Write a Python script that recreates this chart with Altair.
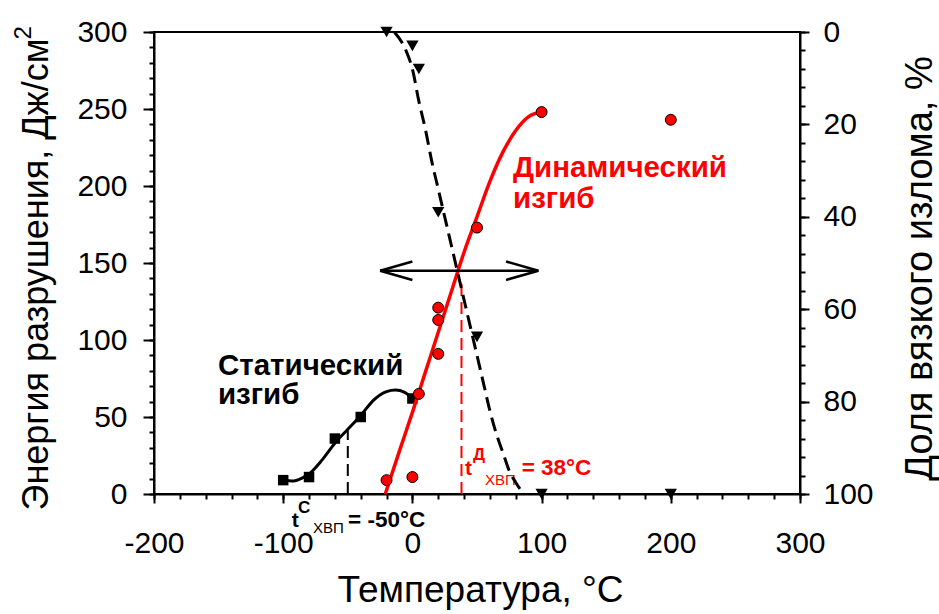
import altair as alt
import pandas as pd

FONT = "Liberation Sans"
RED = "#ff0000"

# Static bending: fracture energy, J/cm^2
static_temp = [-100, -80, -60, -40, 0]
static_energy = [9, 11, 36, 50, 62]
static_fit_temp = [-100, -92, -85, -80, -70, -60, -50, -40, -30, -20, -13, -6, 0]
static_fit_energy = [9, 8.5, 10.5, 13, 22, 33, 42, 51, 61, 66.5, 67.5, 66, 62]

# Dynamic bending: fracture energy, J/cm^2
dyn_temp = [-20, 0, 5, 20, 20, 20, 50, 100, 200]
dyn_energy = [9, 11, 65, 91, 113, 121, 173, 248, 243]
dyn_fit_temp = [-21, -10, 0, 10, 20, 30, 40, 50, 60, 70, 80, 90, 100]
dyn_fit_energy = [0, 28, 53, 79, 105, 131, 157, 180, 203, 222, 236, 245, 248]

# Share of ductile fracture, %
ductile_temp = [-20, 0, 5, 20, 50, 100, 200]
ductile_share = [0, 3, 8, 39, 66, 100, 100]
ductile_fit_temp = [-14, -5, 0, 5, 10, 15, 20, 25, 30, 35, 40, 45, 50, 55, 60,
                    65, 70, 75, 80, 86]
ductile_fit_share = [0, 4, 8, 15, 21, 28, 34, 40, 46, 52, 58, 64, 70, 76, 82,
                     87, 91, 95, 97.5, 100]

# Ductile-to-brittle transition temperatures
t_static = -50
t_static_level = 42
t_dynamic = 38
t_dynamic_level = 140

# Double-headed arrow
arrow_level = 145
arrow_from, arrow_to = -25, 97.5
head_len, head_half = 25, 6

x_scale = alt.Scale(domain=[-200, 300], nice=False, zero=False)
e_scale = alt.Scale(domain=[0, 300], nice=False, zero=False)
p_scale = alt.Scale(domain=[0, 100], nice=False, zero=False, reverse=True)

common = dict(
    domainColor="black", domainWidth=2, tickColor="black", tickWidth=2,
    labelColor="black", labelFont=FONT, labelFontSize=30,
    titleFont=FONT, titleFontWeight="normal", titleColor="black",
    labelOverlap=False, labelFlush=False, grid=False,
)
minor = dict(domain=False, labels=False, title=None, grid=False,
             tickColor="black", tickWidth=2, tickSize=5)

x_axis = alt.Axis(
    values=list(range(-200, 301, 100)), tickSize=9,
    labelExpr="'' + datum.value",
    labelBaseline="alphabetic", labelPadding=49,
    title="Температура, °C", titleFontSize=37, titleX=326, titleY=107,
    titleBaseline="alphabetic", titleAlign="center",
    **common,
)
x_minor = alt.Axis(orient="bottom", values=list(range(-200, 301, 20)), **minor)

left_axis = alt.Axis(
    values=list(range(0, 301, 50)), tickSize=11,
    labelExpr="'' + datum.value",
    labelPadding=16, labelBaseline="middle",
    title="Энергия разрушения, Дж/см", titleFontSize=36, titleAngle=270,
    titleX=-107, titleY=242, titleBaseline="alphabetic", titleAlign="center",
    **common,
)
left_minor = alt.Axis(orient="left", values=list(range(0, 301, 10)), **minor)

right_axis = alt.Axis(
    orient="right", values=list(range(0, 101, 20)), tickSize=9,
    labelExpr="'' + datum.value",
    labelPadding=14, labelAlign="left", labelBaseline="middle",
    title="Доля вязкого излома, %", titleFontSize=38, titleAngle=270,
    titleX=131, titleY=236, titleBaseline="alphabetic", titleAlign="center",
    **common,
)
right_minor = alt.Axis(orient="right", values=list(range(0, 101, 4)), **minor)


def X(field, axis=None):
    return alt.X(f"{field}:Q", scale=x_scale, axis=axis)


def YE(field, axis=None):
    return alt.Y(f"{field}:Q", scale=e_scale, axis=axis)


def YP(field, axis=None):
    return alt.Y(f"{field}:Q", scale=p_scale, axis=axis)


def label(text, x, y, size, color="black", weight="bold", angle=0, align="left",
          baseline="alphabetic"):
    df = pd.DataFrame({"x": [x], "y": [y], "t": [text]})
    return alt.Chart(df).mark_text(
        align=align, baseline=baseline, font=FONT, fontSize=size,
        fontWeight=weight, color=color, angle=angle,
    ).encode(x=X("x"), y=YE("y"), text="t:N")


static_pts = pd.DataFrame({"t": static_temp, "e": static_energy})
static_fit = pd.DataFrame({"t": static_fit_temp, "e": static_fit_energy})
dyn_pts = pd.DataFrame({"t": dyn_temp, "e": dyn_energy})
dyn_fit = pd.DataFrame({"t": dyn_fit_temp, "e": dyn_fit_energy})
duct_pts = pd.DataFrame({"t": ductile_temp, "p": ductile_share})
duct_fit = pd.DataFrame({"t": ductile_fit_temp, "p": ductile_fit_share})

static_line = alt.Chart(static_fit).mark_line(
    color="black", strokeWidth=3, interpolate="monotone"
).encode(x=X("t", x_axis), y=YE("e", left_axis))

static_marks = alt.Chart(static_pts).mark_point(
    shape="square", filled=True, color="black", size=110, opacity=1
).encode(x=X("t", x_minor), y=YE("e", left_minor))

static_rule = alt.Chart(
    pd.DataFrame({"t": [t_static], "e0": [0], "e1": [t_static_level]})
).mark_rule(color="black", strokeWidth=2, strokeDash=[12, 6]).encode(
    x=X("t"), y=YE("e0"), y2="e1:Q"
)

dyn_line = alt.Chart(dyn_fit).mark_line(
    color=RED, strokeWidth=3.5, interpolate="monotone"
).encode(x=X("t"), y=YE("e"))

dyn_marks = alt.Chart(dyn_pts).mark_point(
    shape="circle", filled=True, fill=RED, stroke="black", strokeWidth=1,
    size=120, opacity=1
).encode(x=X("t"), y=YE("e"))

dyn_rule = alt.Chart(
    pd.DataFrame({"t": [t_dynamic], "e0": [0], "e1": [t_dynamic_level]})
).mark_rule(color=RED, strokeWidth=2, strokeDash=[12, 6]).encode(
    x=X("t"), y=YE("e0"), y2="e1:Q"
)

arrow_df = pd.DataFrame({
    "x0": [arrow_from, arrow_from, arrow_from, arrow_to, arrow_to],
    "x1": [arrow_to, arrow_from + head_len, arrow_from + head_len,
           arrow_to - head_len, arrow_to - head_len],
    "y0": [arrow_level] * 5,
    "y1": [arrow_level, arrow_level + head_half, arrow_level - head_half,
           arrow_level + head_half, arrow_level - head_half],
})
arrow = alt.Chart(arrow_df).mark_rule(color="black", strokeWidth=2.5).encode(
    x=X("x0"), x2="x1:Q", y=YE("y0"), y2="y1:Q"
)

texts = [
    label("Статический", -150.5, 77.3, 29.5),
    label("изгиб", -150.5, 58.4, 29.5),
    label("Динамический", 77.9, 205.8, 29.5, RED),
    label("изгиб", 77.9, 185.7, 29.5, RED),
    # t^C_ХВП = -50°C
    label("t", -93.4, -21.4, 21),
    label("C", -88.5, -12.3, 17),
    label("ХВП", -76.9, -25.3, 15, weight="normal"),
    label("= -50°C", -49.8, -21.4, 22.5),
    # t^Д_ХВП = 38°C
    label("t", 40.7, 12.3, 21, RED),
    label("Д", 46.9, 22.1, 17, RED),
    label("ХВП", 56.2, 5.8, 15, RED, weight="normal"),
    label("= 38°C", 84.6, 12.3, 22.5, RED),
    # exponent of the left axis unit
    label("2", -300.6, 299.4, 24, weight="normal", angle=270, align="center",
          baseline="middle"),
]

duct_line = alt.Chart(duct_fit).mark_line(
    color="black", strokeWidth=3, strokeDash=[14, 7], interpolate="monotone"
).encode(x=X("t"), y=YP("p", right_axis))

duct_marks = alt.Chart(duct_pts).mark_point(
    shape="triangle-down", filled=True, color="black", size=150, opacity=1
).encode(x=X("t"), y=YP("p", right_minor))

energy = alt.layer(static_line, static_rule, static_marks, dyn_line, dyn_rule,
                   dyn_marks, arrow, *texts).resolve_axis(x="independent",
                                                          y="independent")
ductile = alt.layer(duct_line, duct_marks).resolve_axis(y="independent")

chart = alt.layer(energy, ductile).resolve_scale(y="independent").properties(
    width=646, height=462,
    autosize=alt.AutoSizeParams(type="none"),
    padding={"left": 154, "top": 32, "right": 139, "bottom": 120},
    background="white",
).configure_view(stroke="black", strokeWidth=2)

chart.save("out.html", embed_options={"renderer": "svg", "actions": False})
